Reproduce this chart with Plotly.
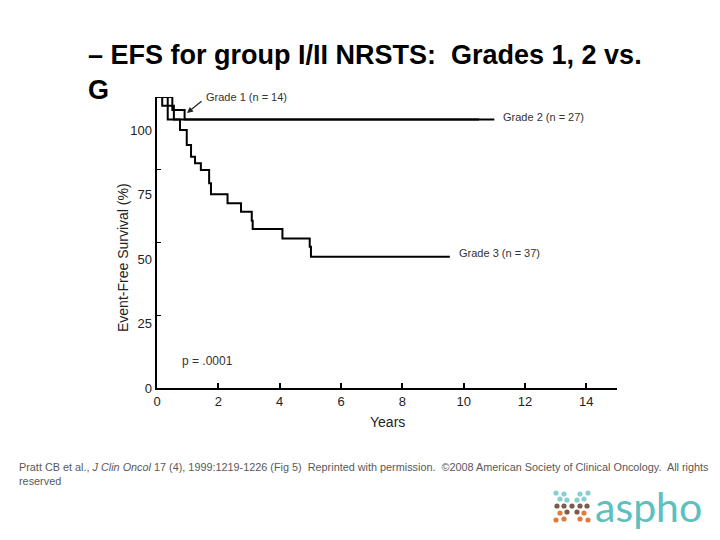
import plotly.graph_objects as go

# ---------------- data ----------------
grade1_years = [0, 0.5, 0.9, 10.5]
grade1_efs = [100, 95.5, 92.3, 92.3]

grade2_years = [0, 0.17, 0.55, 11.0]
grade2_efs = [100, 97.0, 92.3, 92.3]

grade3_years = [0, 0.35, 0.75, 0.97, 1.11, 1.24, 1.43, 1.70, 1.76, 2.30, 2.74, 3.09, 3.12, 4.09, 4.98, 5.02, 9.55]
grade3_efs = [100, 92.3, 88.7, 83.5, 79.5, 77.2, 74.9, 70.4, 66.6, 63.5, 60.6, 57.5, 54.6, 51.4, 48.5, 45.1, 45.1]

x_ticks = [0, 2, 4, 6, 8, 10, 12, 14]
y_ticks = [0, 25, 50, 75, 100]
y_tick_labels = ["0", "25", "50", "75", "100"]

series_labels = ["Grade 1 (n = 14)", "Grade 2 (n = 27)", "Grade 3 (n = 37)"]
p_value_text = "p = .0001"

# ---------------- layout helpers ----------------
OFF = 8                              # page body margin of the html page
W, H = 720 - OFF, 540 - OFF          # figure size
L, R, T, B = 157, 617, 97, 388       # plot area in screenshot pixels


def px(xp):
    return (xp - L) / (R - L)


def py(yp):
    return (B - yp) / (B - T)


fig = go.Figure()
line_style = dict(color="black", width=2, shape="hv")
for xs, ys in [(grade1_years, grade1_efs), (grade2_years, grade2_efs), (grade3_years, grade3_efs)]:
    fig.add_trace(go.Scatter(x=xs, y=ys, mode="lines", line=line_style,
                             showlegend=False, hoverinfo="skip"))

# empty trace so the label axis is drawn
fig.add_trace(go.Scatter(x=[], y=[], yaxis="y2", showlegend=False, hoverinfo="skip"))

tick_font = dict(family="Liberation Sans, Arial, sans-serif", size=13, color="#222")

fig.update_layout(
    width=W, height=H,
    paper_bgcolor="white", plot_bgcolor="white",
    margin=dict(l=L - OFF, r=W + OFF - R, t=T - OFF, b=H + OFF - B, pad=0),
    title=dict(
        text="– EFS for group I/II NRSTS:\u00a0 Grades 1, 2 vs.<br>G",
        x=(88 - OFF) / W, xanchor="left", xref="container",
        y=1 - (64 - OFF) / H, yanchor="top", yref="container",
        font=dict(family="Liberation Sans, Arial, sans-serif", size=27, color="black", weight="bold"),
    ),
    xaxis=dict(range=[0, 15], showline=True, linecolor="black", linewidth=2,
               ticks="inside", ticklen=5, tickwidth=1.5, tickcolor="black",
               tickvals=x_ticks, tickfont=tick_font, showgrid=False, zeroline=False),
    yaxis=dict(range=[0, 100], showline=True, linecolor="black", linewidth=2,
               ticks="inside", ticklen=4, tickwidth=1, tickcolor="black",
               tickvals=y_ticks, showticklabels=False, showgrid=False, zeroline=False),
    yaxis2=dict(range=[0, 112.8], overlaying="y", side="left", showline=False,
                tickvals=y_ticks, ticktext=y_tick_labels, ticks="", tickfont=tick_font,
                ticklabelstandoff=4, showgrid=False, zeroline=False),
)

ann_font = dict(family="Liberation Sans, Arial, sans-serif", size=11, color="#333")
annotations = [
    # axis titles
    dict(text="Event-Free Survival (%)", xref="paper", yref="paper", x=px(123), y=py(258),
         textangle=-90, showarrow=False, xanchor="center", yanchor="middle",
         font=dict(family="Liberation Sans, Arial, sans-serif", size=14, color="#222")),
    dict(text="Years", xref="paper", yref="paper", x=px(387), y=py(422),
         showarrow=False, xanchor="center", yanchor="middle",
         font=dict(family="Liberation Sans, Arial, sans-serif", size=14, color="#222")),
    # series labels
    dict(text=series_labels[0], xref="paper", yref="paper", x=px(204), y=py(97),
         showarrow=False, xanchor="left", yanchor="middle", font=ann_font),
    dict(text="", xref="paper", yref="paper", x=px(187), y=py(113),
         showarrow=True, ax=16, ay=-13, arrowhead=2, arrowsize=1, arrowwidth=1.2,
         arrowcolor="#222"),
    dict(text=series_labels[1], xref="paper", yref="paper", x=px(501), y=py(117),
         showarrow=False, xanchor="left", yanchor="middle", font=ann_font),
    dict(text=series_labels[2], xref="paper", yref="paper", x=px(457), y=py(253),
         showarrow=False, xanchor="left", yanchor="middle", font=ann_font),
    dict(text=p_value_text, xref="paper", yref="paper", x=px(180), y=py(361),
         showarrow=False, xanchor="left", yanchor="middle",
         font=dict(family="Liberation Sans, Arial, sans-serif", size=12, color="#333")),
    # footnote
    dict(text=("Pratt CB et al., <i>J Clin Oncol</i> 17 (4), 1999:1219-1226 (Fig 5)  Reprinted with permission. "
               " ©2008 American Society of Clinical Oncology.  All rights<br>reserved"),
         xref="paper", yref="paper", x=px(17), y=py(459), showarrow=False,
         xanchor="left", yanchor="top", align="left",
         font=dict(family="Liberation Sans, Arial, sans-serif", size=10.85, color="#595959")),
    # logo text
    dict(text="aspho", xref="paper", yref="paper", x=px(593), y=py(507), showarrow=False,
         xanchor="left", yanchor="middle",
         font=dict(family="Lato, sans-serif", size=41, color="#5cbfc0")),
]
fig.update_layout(annotations=annotations)

# logo dots
teal, brown, orange = "#86d0d2", "#7b5b4c", "#e27a3c"
dots = [
    (556, 493, teal), (564, 494, teal), (580, 494, teal), (588, 493, teal),
    (560, 499, teal), (567, 500, teal), (577, 500, teal), (584, 499, teal),
    (557, 506, brown), (564, 506, brown), (572, 506, brown), (580, 506, brown), (587, 506, brown),
    (560, 513, orange), (567, 512, brown), (577, 512, brown), (584, 513, orange),
    (556, 520, orange), (564, 519, orange), (580, 519, orange), (588, 520, orange),
]
for (dx, dy, c) in dots:
    r = 2.6
    fig.add_shape(type="circle", xref="paper", yref="paper",
                  x0=px(dx - r), x1=px(dx + r), y0=py(dy + r), y1=py(dy - r),
                  fillcolor=c, line=dict(width=0))

fig.write_html("out.html")
